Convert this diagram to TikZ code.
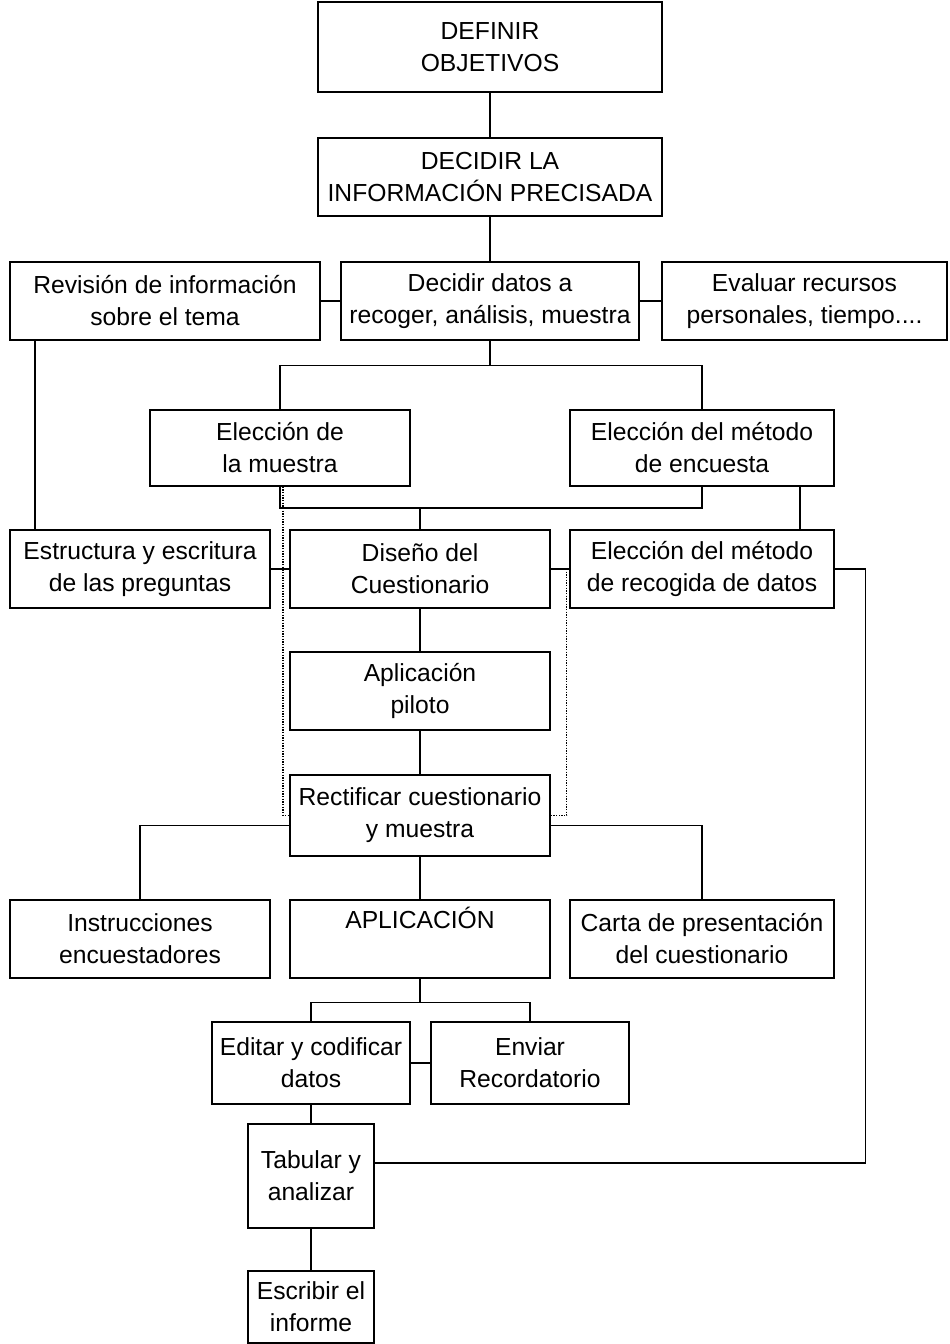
\documentclass[tikz,border=0pt]{standalone}
\usepackage{fontspec}
\setmainfont{Liberation Sans}
\usetikzlibrary{positioning}
\tikzset{caja/.style={draw,line width=1pt,align=center,inner sep=2pt,
        font=\fontsize{18.5}{24}\selectfont},
        tam/.style 2 args={minimum width=#1*0.75pt,minimum height=#2*0.75pt},
        enlace/.style={line width=1pt},
        punteado/.style={line width=1pt,densely dotted}}

\begin{document}
\begin{tikzpicture}[x=0.75pt,y=-0.75pt]
\useasboundingbox (0,0) rectangle (949,1344);
\node[caja,tam={344}{90}] (objetivos) at (490,47) {DEFINIR\\OBJETIVOS};
\node[caja,tam={344}{78}] (informacion) at (490,177) {DECIDIR LA\\INFORMACIÓN PRECISADA};
\node[caja,tam={310}{78}] (revision) at (165,301) {Revisión de información\\sobre el tema};
\node[caja,tam={298}{78}] (datos) at (490,301) {Decidir datos a\\recoger, análisis, muestra};
\node[caja,tam={285}{78}] (recursos) at (804.5,301) {Evaluar recursos\\personales, tiempo....};
\node[caja,tam={260}{76}] (muestra) at (280,448) {Elección de\\la muestra};
\node[caja,tam={264}{76}] (encuesta) at (702,448) {Elección del método\\de encuesta};
\node[caja,tam={260}{78}] (estructura) at (140,569) {Estructura y escritura\\de las preguntas};
\node[caja,tam={260}{78}] (diseno) at (420,569) {Diseño del\\Cuestionario};
\node[caja,tam={264}{78}] (recogida) at (702,569) {Elección del método\\de recogida de datos};
\node[caja,tam={260}{78}] (piloto) at (420,691) {Aplicación\\piloto};
\node[caja,tam={260}{81}] (rectificar) at (420,815.5) {Rectificar cuestionario\\y muestra};
\node[caja,tam={260}{78}] (instrucciones) at (140,939) {Instrucciones\\encuestadores};
\node[caja,tam={260}{78}] (aplicacion) at (420,939) {APLICACIÓN\\\strut};
\node[caja,tam={264}{78}] (carta) at (702,939) {Carta de presentación\\del cuestionario};
\node[caja,tam={198}{82}] (editar) at (311,1063) {Editar y codificar\\datos};
\node[caja,tam={198}{82}] (enviar) at (530,1063) {Enviar\\Recordatorio};
\node[caja,tam={126}{104}] (tabular) at (311,1176) {Tabular y\\analizar};
\node[caja,tam={126}{72}] (escribir) at (311,1307) {Escribir el\\informe};

\coordinate (lateral) at (35,0);
\coordinate (derecha) at (800,0);
\coordinate (union) at (420,508);

\draw[enlace] (objetivos) -- (informacion);
\draw[enlace] (informacion) -- (datos);
\draw[enlace] (revision) -- (datos);
\draw[enlace] (datos) -- (recursos);
\draw[enlace] (datos.south) -- ++(0,25) coordinate (bifurca) -| (muestra.north);
\draw[enlace] (bifurca) -| (encuesta.north);
\draw[enlace] (muestra.south) -- (muestra.south |- union) -- (encuesta.south |- union) -- (encuesta.south);
\draw[enlace] (union) -- (diseno.north);
\draw[enlace] (encuesta.south -| derecha) -- (recogida.north -| derecha);
\draw[enlace] (revision.south -| lateral) -- (estructura.north -| lateral);
\draw[enlace] (estructura) -- (diseno);
\draw[enlace] (diseno) -- (recogida);
\draw[enlace] (recogida.east) -- ++(31,0) |- ([yshift=9.75pt]tabular.east);
\draw[punteado] ([xshift=2.25pt]muestra.south) |- (rectificar.west);
\draw[punteado] (diseno.east) -- ++(16,0) |- (rectificar.east);
\draw[enlace] (diseno) -- (piloto);
\draw[enlace] (piloto) -- (rectificar);
\draw[enlace] ([yshift=-7.5pt]rectificar.west) -| (instrucciones.north);
\draw[enlace] ([yshift=-7.5pt]rectificar.east) -| (carta.north);
\draw[enlace] (rectificar) -- (aplicacion);
\draw[enlace] (aplicacion.south) -- ++(0,24) coordinate (reparto) -| (editar.north);
\draw[enlace] (reparto) -| (enviar.north);
\draw[enlace] (editar) -- (enviar);
\draw[enlace] (editar.south) -- (tabular.north);
\draw[enlace] (tabular.south) -- (escribir.north);
\end{tikzpicture}
\end{document}
